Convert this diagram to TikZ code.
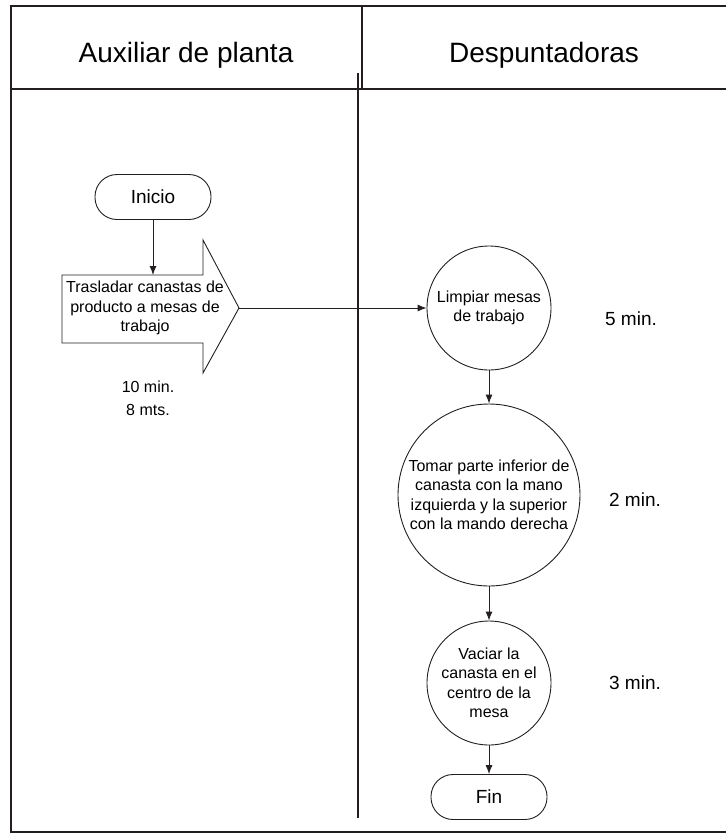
\documentclass[tikz,border=0pt]{standalone}
\usepackage{fontspec}
\setmainfont{Liberation Sans}
\usetikzlibrary{arrows.meta,positioning}
\definecolor{Trazo}{HTML}{231F20}

\begin{document}
\begin{tikzpicture}[x=1pt,y=-1pt,>={Latex[length=9pt,width=7pt]},
  terminal/.style={draw=Trazo,line width=0.9pt,rounded corners=22pt,minimum width=116pt,minimum height=45pt,font=\fontsize{19}{23}\selectfont},
  actividad/.style={draw=Trazo,line width=0.9pt,circle,inner sep=0pt,align=center,font=\fontsize{16}{19.5}\selectfont},
  tiempo/.style={align=center,font=\fontsize{19}{23}\selectfont},
  enlace/.style={draw=Trazo,line width=0.9pt,->},
  marco/.style={draw=Trazo,line width=2pt}]
  \useasboundingbox (0,0) rectangle (726,833);
  % marco y encabezados de carriles
  \draw[marco] (726,6) -- (11,6) -- (11,832) -- (726,832);
  \draw[marco] (11,89) -- (726,89);
  \draw[marco] (362,6) -- (362,89);
  \draw[marco] (358,73) -- (358,818);
  \node[font=\fontsize{28}{32}\selectfont] (aux) at (186,55) {Auxiliar de planta};
  \node[font=\fontsize{28}{32}\selectfont] (desp) at (544,55) {Despuntadoras};
  % auxiliar de planta
  \node[terminal] (inicio) at (153,197) {Inicio};
  \draw[draw=Trazo,line width=0.9pt] (62,275) -- (203,275) -- (203,240) -- (239,308)
    -- (203,373) -- (203,343) -- (62,343) -- cycle;
  \coordinate (cuerpo) at (153,275);
  \coordinate (punta) at (239,308);
  \node[align=center,font=\fontsize{16}{19.5}\selectfont] (traslado) at (145,308)
    {Trasladar canastas de\\producto a mesas de\\trabajo};
  \node[align=center,font=\fontsize{16}{23}\selectfont] (t0) at (148,398) {10 min.\\8 mts.};
  % despuntadoras
  \node[actividad,minimum size=124pt] (limpiar) at (489,308) {Limpiar mesas\\de trabajo};
  \node[actividad,minimum size=182pt] (tomar) at (489,495)
    {Tomar parte inferior de\\canasta con la mano\\izquierda y la superior\\con la mando derecha};
  \node[actividad,minimum size=124pt] (vaciar) at (489,683)
    {Vaciar la\\canasta en el\\centro de la\\mesa};
  \node[terminal] (fin) at (489,797) {Fin};
  \node[tiempo] (t1) at (631,319) {5 min.};
  \node[tiempo] (t2) at (635,500) {2 min.};
  \node[tiempo] (t3) at (635,683) {3 min.};
  % conectores
  \draw[enlace] (inicio) -- (cuerpo);
  \draw[enlace] (punta) -- (limpiar);
  \draw[enlace] (limpiar) -- (tomar);
  \draw[enlace] (tomar) -- (vaciar);
  \draw[enlace] (vaciar) -- (fin);
\end{tikzpicture}
\end{document}
